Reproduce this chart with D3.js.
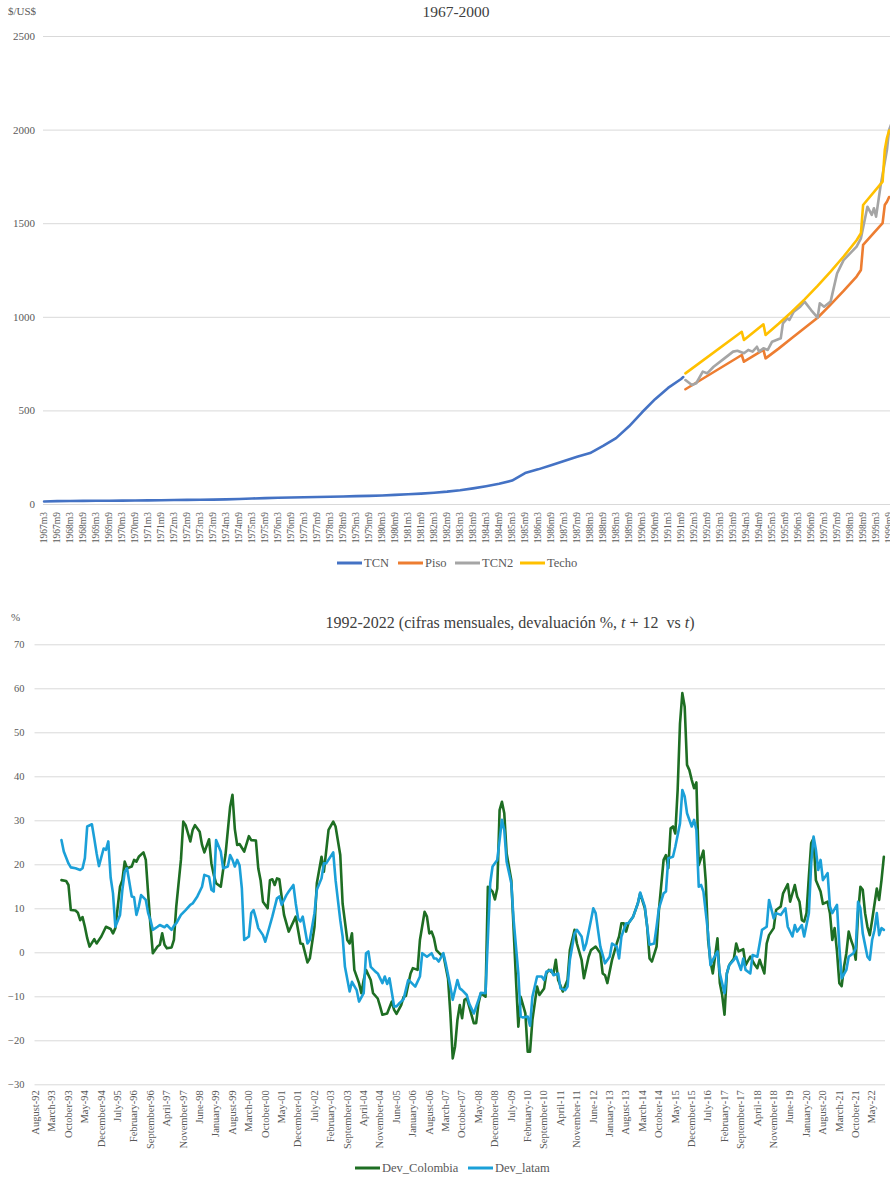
<!DOCTYPE html>
<html>
<head>
<meta charset="utf-8">
<script src="https://cdn.jsdelivr.net/npm/d3@7"></script>
<style>
  body { margin: 0; background: #fff; }
  svg { display: block; }
</style>
</head>
<body>
<script>
// ---- top chart: 1967-2000, $/US$ ----
const topYTicks = [0, 500, 1000, 1500, 2000, 2500];

const tcn = [
    ["1967-03", 13.5], ["1967-09", 15.5], ["1968-03", 16.0], ["1968-09", 16.6], ["1969-03", 17.1], ["1969-09", 17.6],
    ["1970-03", 18.2], ["1970-09", 18.9], ["1971-03", 19.5], ["1971-09", 20.3], ["1972-03", 21.2], ["1972-09", 22.0],
    ["1973-03", 22.8], ["1973-09", 23.6], ["1974-03", 24.6], ["1974-09", 26.5], ["1975-03", 29.0], ["1975-09", 31.6],
    ["1976-03", 33.6], ["1976-09", 35.0], ["1977-03", 36.2], ["1977-09", 37.0], ["1978-03", 38.4], ["1978-09", 40.0],
    ["1979-03", 41.9], ["1979-09", 43.6], ["1980-03", 45.8], ["1980-09", 48.6], ["1981-03", 51.8], ["1981-09", 55.6],
    ["1982-03", 60.3], ["1982-09", 66.0], ["1983-03", 73.5], ["1983-09", 83.5], ["1984-03", 95.0], ["1984-09", 108],
    ["1985-03", 125], ["1985-09", 165], ["1986-03", 185], ["1986-09", 207], ["1987-03", 230], ["1987-09", 252],
    ["1988-03", 272], ["1988-09", 310], ["1989-03", 352], ["1989-09", 415], ["1990-03", 490], ["1990-09", 560],
    ["1991-03", 620], ["1991-09", 668], ["1991-10", 678]
];

const piso = [
    ["1991-11", 613], ["1994-01", 796], ["1994-02", 760], ["1994-11", 823], ["1994-12", 778], ["1995-06", 830],
    ["1995-12", 885], ["1996-06", 940], ["1996-12", 995], ["1997-06", 1065], ["1997-12", 1138], ["1998-06", 1215],
    ["1998-08", 1250], ["1998-09", 1384], ["1999-06", 1500], ["1999-07", 1597], ["1999-08", 1615], ["1999-09", 1640]
];

const tcn2 = [
    ["1991-11", 662], ["1992-02", 636], ["1992-04", 645], ["1992-07", 707], ["1992-09", 698], ["1992-12", 733],
    ["1993-05", 778], ["1993-09", 814], ["1993-11", 819], ["1994-02", 805], ["1994-04", 823], ["1994-06", 814],
    ["1994-08", 840], ["1994-09", 814], ["1994-11", 832], ["1995-01", 823], ["1995-03", 867], ["1995-05", 876],
    ["1995-07", 885], ["1995-08", 965], ["1995-10", 992], ["1995-11", 983], ["1996-01", 1027], ["1996-04", 1054],
    ["1996-06", 1081], ["1996-09", 1036], ["1996-12", 996], ["1997-01", 1072], ["1997-03", 1054], ["1997-06", 1081],
    ["1997-09", 1232], ["1997-12", 1303], ["1998-03", 1339], ["1998-06", 1375], ["1998-08", 1419], ["1998-11", 1588],
    ["1999-01", 1544], ["1999-02", 1580], ["1999-03", 1535], ["1999-05", 1695], ["1999-08", 1891], ["1999-09", 1998],
    ["1999-10", 2030]
];

const techo = [
    ["1991-11", 698], ["1994-01", 920], ["1994-02", 876], ["1994-11", 960], ["1994-12", 903], ["1995-06", 963],
    ["1995-12", 1026], ["1996-06", 1093], ["1996-12", 1165], ["1997-06", 1241], ["1997-12", 1322], ["1998-06", 1409],
    ["1998-08", 1446], ["1998-09", 1597], ["1999-06", 1722], ["1999-07", 1891], ["1999-08", 1955], ["1999-09", 1995]
];

// ---- bottom chart: 1992-2022, devaluación % ----
const bottomYTicks = [-30, -20, -10, 0, 10, 20, 30, 40, 50, 60, 70];

const devColombia = [
    ["1993-07", 16.4], ["1993-09", 16.2], ["1993-10", 15.3], ["1993-11", 9.6],
    ["1994-01", 9.5], ["1994-02", 9.0], ["1994-03", 7.3], ["1994-04", 8.0], ["1994-05", 5.8], ["1994-06", 3.2], ["1994-07", 1.3], ["1994-09", 3.0], ["1994-10", 2.0], ["1994-12", 3.6],
    ["1995-02", 5.8], ["1995-04", 5.3], ["1995-05", 4.3], ["1995-06", 5.5], ["1995-08", 14.9], ["1995-09", 16.4], ["1995-10", 20.6], ["1995-11", 19.1],
    ["1996-01", 19.5], ["1996-02", 21.0], ["1996-03", 20.6], ["1996-04", 21.7], ["1996-06", 22.7], ["1996-07", 21.0], ["1996-08", 13.4], ["1996-09", 6.0], ["1996-10", -0.2], ["1996-12", 1.3],
    ["1997-01", 1.7], ["1997-02", 4.3], ["1997-03", 1.7], ["1997-04", 0.9], ["1997-06", 1.1], ["1997-07", 2.8], ["1997-08", 10.4], ["1997-10", 21.0], ["1997-11", 29.7], ["1997-12", 28.9],
    ["1998-02", 25.2], ["1998-03", 27.8], ["1998-04", 28.9], ["1998-06", 27.4], ["1998-07", 24.4], ["1998-08", 22.7], ["1998-10", 25.7], ["1998-11", 20.2], ["1998-12", 17.6],
    ["1999-01", 15.7], ["1999-03", 14.9], ["1999-04", 18.7], ["1999-05", 22.1], ["1999-07", 33.1], ["1999-08", 35.8], ["1999-09", 28.0], ["1999-10", 24.4], ["1999-11", 24.6],
    ["2000-01", 22.9], ["2000-03", 26.4], ["2000-04", 25.5], ["2000-06", 25.4], ["2000-07", 19.1], ["2000-08", 16.4], ["2000-09", 11.5], ["2000-11", 10.0], ["2000-12", 16.4],
    ["2001-01", 16.6], ["2001-02", 15.3], ["2001-03", 16.8], ["2001-04", 16.6], ["2001-06", 8.5], ["2001-08", 4.7], ["2001-09", 5.8], ["2001-11", 8.1],
    ["2002-01", 2.0], ["2002-02", 1.9], ["2002-04", -2.3], ["2002-05", -1.4], ["2002-07", 5.8], ["2002-08", 15.7], ["2002-10", 21.7], ["2002-11", 18.3],
    ["2003-01", 27.8], ["2003-03", 29.7], ["2003-04", 28.6], ["2003-06", 22.1], ["2003-07", 11.1], ["2003-09", 2.8], ["2003-10", 2.0], ["2003-11", 4.3], ["2003-12", -4.0],
    ["2004-02", -7.0], ["2004-03", -9.3], ["2004-04", -6.3], ["2004-05", -4.0], ["2004-07", -6.3], ["2004-08", -9.3], ["2004-10", -10.5], ["2004-11", -12.3], ["2004-12", -14.2],
    ["2005-02", -13.9], ["2005-04", -11.2], ["2005-05", -13.1], ["2005-06", -14.0], ["2005-08", -12.0], ["2005-09", -10.2], ["2005-10", -9.9], ["2005-12", -4.8],
    ["2006-01", -3.6], ["2006-03", -4.0], ["2006-04", 2.8], ["2006-06", 9.2], ["2006-07", 8.1], ["2006-08", 4.3], ["2006-09", 4.7], ["2006-10", 3.2], ["2006-11", 0.5],
    ["2007-01", -0.6], ["2007-02", -0.5], ["2007-03", -3.3], ["2007-04", -6.0], ["2007-05", -14.0], ["2007-06", -24.1], ["2007-07", -21.4], ["2007-08", -15.4], ["2007-09", -12.0], ["2007-10", -15.0], ["2007-11", -10.8], ["2007-12", -10.5],
    ["2008-01", -12.3], ["2008-03", -16.1], ["2008-04", -16.1], ["2008-05", -11.6], ["2008-06", -9.3], ["2008-08", -10.1], ["2008-09", 14.9], ["2008-11", 13.8], ["2008-12", 12.0],
    ["2009-01", 14.5], ["2009-02", 32.3], ["2009-03", 34.2], ["2009-04", 31.6], ["2009-05", 22.5], ["2009-07", 16.4], ["2009-08", 5.1], ["2009-09", -6.3], ["2009-10", -16.9], ["2009-11", -10.1],
    ["2010-01", -13.9], ["2010-02", -22.6], ["2010-03", -22.6], ["2010-04", -15.4], ["2010-06", -7.8], ["2010-07", -9.7], ["2010-09", -8.2], ["2010-10", -4.8], ["2010-11", -4.0],
    ["2011-01", -4.8], ["2011-02", -1.7], ["2011-03", -6.3], ["2011-05", -8.9], ["2011-07", -6.3], ["2011-08", 0.5], ["2011-10", 5.1], ["2011-11", 2.0],
    ["2012-01", -1.7], ["2012-02", -5.9], ["2012-04", -1.0], ["2012-05", 0.5], ["2012-07", 1.3], ["2012-09", -0.2], ["2012-10", -4.8], ["2012-11", -5.2], ["2012-12", -7.0],
    ["2013-02", -1.7], ["2013-04", 2.0], ["2013-05", 3.6], ["2013-06", 6.6], ["2013-07", 6.6], ["2013-08", 4.7], ["2013-09", 6.6], ["2013-11", 8.1],
    ["2014-01", 11.1], ["2014-02", 13.4], ["2014-04", 10.0], ["2014-05", 5.8], ["2014-06", -1.4], ["2014-07", -2.1], ["2014-09", 1.3], ["2014-10", 9.6], ["2014-12", 21.0],
    ["2015-01", 22.1], ["2015-02", 19.1], ["2015-03", 28.2], ["2015-04", 28.6], ["2015-05", 27.0], ["2015-06", 36.9], ["2015-07", 52.0], ["2015-08", 58.9], ["2015-09", 55.8], ["2015-10", 42.6], ["2015-11", 41.4], ["2015-12", 39.2],
    ["2016-01", 37.3], ["2016-02", 38.6], ["2016-03", 19.8], ["2016-05", 23.1], ["2016-06", 16.1], ["2016-07", 2.8], ["2016-08", -2.1], ["2016-09", -4.8], ["2016-11", 3.2], ["2016-12", -7.0],
    ["2017-01", -9.7], ["2017-02", -14.2], ["2017-03", -4.8], ["2017-04", -2.9], ["2017-06", -1.4], ["2017-07", 2.0], ["2017-08", 0.2], ["2017-10", 0.7], ["2017-11", -2.9],
    ["2018-01", -1.0], ["2018-03", -2.9], ["2018-04", -3.6], ["2018-05", -1.7], ["2018-07", -4.8], ["2018-08", 2.0], ["2018-09", 3.9], ["2018-11", 5.5], ["2018-12", 9.6],
    ["2019-02", 10.4], ["2019-03", 13.4], ["2019-05", 15.5], ["2019-06", 11.5], ["2019-08", 15.3], ["2019-09", 12.7], ["2019-10", 11.5], ["2019-11", 7.3], ["2019-12", 7.0],
    ["2020-01", 8.9], ["2020-02", 17.2], ["2020-03", 24.8], ["2020-04", 25.9], ["2020-05", 16.4], ["2020-07", 13.8], ["2020-08", 11.0], ["2020-10", 11.5], ["2020-11", 8.9], ["2020-12", 2.8],
    ["2021-01", 5.5], ["2021-02", 0.2], ["2021-03", -7.0], ["2021-04", -7.7], ["2021-05", -3.3], ["2021-06", -0.2], ["2021-07", 4.7], ["2021-08", 2.8], ["2021-09", 1.3], ["2021-10", -1.7], ["2021-11", 8.9], ["2021-12", 14.9],
    ["2022-01", 14.2], ["2022-02", 8.9], ["2022-03", 5.8], ["2022-04", 3.9], ["2022-05", 7.3], ["2022-07", 14.5], ["2022-08", 11.9], ["2022-09", 16.4], ["2022-10", 21.7]
];

const devLatam = [
    ["1993-07", 25.5], ["1993-08", 22.9], ["1993-10", 20.2], ["1993-11", 19.3],
    ["1994-01", 19.1], ["1994-03", 18.7], ["1994-04", 19.1], ["1994-05", 21.4], ["1994-06", 28.6], ["1994-08", 29.1], ["1994-09", 25.9], ["1994-10", 22.5], ["1994-11", 19.6],
    ["1995-01", 23.6], ["1995-02", 23.3], ["1995-03", 25.2], ["1995-04", 17.0], ["1995-05", 13.4], ["1995-06", 5.8], ["1995-08", 8.5], ["1995-09", 14.2], ["1995-10", 18.3], ["1995-11", 19.1],
    ["1996-01", 12.7], ["1996-02", 12.5], ["1996-03", 8.5], ["1996-04", 10.4], ["1996-05", 13.0], ["1996-07", 11.9], ["1996-08", 8.9], ["1996-09", 7.3], ["1996-10", 5.1], ["1996-12", 5.8],
    ["1997-01", 6.2], ["1997-03", 5.7], ["1997-04", 6.2], ["1997-06", 5.1], ["1997-07", 6.0], ["1997-08", 6.6], ["1997-10", 8.5], ["1997-12", 9.6],
    ["1998-02", 10.8], ["1998-03", 11.1], ["1998-05", 12.7], ["1998-07", 14.9], ["1998-08", 17.6], ["1998-10", 17.2], ["1998-11", 14.2], ["1998-12", 13.8],
    ["1999-01", 25.5], ["1999-03", 22.9], ["1999-04", 19.1], ["1999-06", 19.5], ["1999-07", 22.1], ["1999-08", 21.0], ["1999-09", 19.5], ["1999-10", 21.0], ["1999-11", 19.8], ["1999-12", 14.5],
    ["2000-01", 2.8], ["2000-03", 3.6], ["2000-04", 8.9], ["2000-05", 9.6], ["2000-06", 7.7], ["2000-07", 5.5], ["2000-09", 3.9], ["2000-10", 2.4], ["2000-12", 6.2],
    ["2001-01", 8.1], ["2001-03", 12.3], ["2001-04", 12.7], ["2001-05", 10.8], ["2001-07", 13.0], ["2001-08", 13.8], ["2001-10", 15.3], ["2001-11", 11.1], ["2001-12", 7.7],
    ["2002-01", 7.0], ["2002-02", 8.1], ["2002-04", 2.0], ["2002-05", 2.8], ["2002-07", 8.9], ["2002-08", 14.2], ["2002-10", 16.8], ["2002-11", 20.2], ["2002-12", 20.2],
    ["2003-03", 22.7], ["2003-04", 16.4], ["2003-06", 7.3], ["2003-07", 3.6], ["2003-08", -3.3], ["2003-10", -8.9], ["2003-11", -6.7],
    ["2004-01", -8.6], ["2004-02", -11.2], ["2004-04", -9.3], ["2004-05", -0.2], ["2004-06", 0.2], ["2004-07", -3.3], ["2004-09", -4.4], ["2004-10", -4.8], ["2004-12", -7.0],
    ["2005-01", -5.5], ["2005-02", -7.2], ["2005-03", -5.9], ["2005-05", -12.3], ["2005-06", -12.3], ["2005-07", -11.7], ["2005-09", -10.7], ["2005-11", -6.3], ["2005-12", -6.7],
    ["2006-02", -7.8], ["2006-04", -5.5], ["2006-05", -0.2], ["2006-07", -1.0], ["2006-09", -0.2], ["2006-10", -1.4], ["2006-11", -1.4], ["2006-12", -2.1],
    ["2007-02", -0.2], ["2007-03", -2.5], ["2007-05", -7.8], ["2007-06", -10.8], ["2007-08", -6.3], ["2007-09", -8.2], ["2007-10", -8.6], ["2007-12", -9.7],
    ["2008-01", -11.6], ["2008-03", -13.9], ["2008-05", -10.8], ["2008-06", -9.2], ["2008-08", -9.3], ["2008-10", 15.7], ["2008-11", 19.5],
    ["2009-01", 21.0], ["2009-02", 25.5], ["2009-03", 30.1], ["2009-04", 27.8], ["2009-05", 20.6], ["2009-07", 15.7], ["2009-08", 7.3], ["2009-10", -4.8], ["2009-11", -14.6], ["2009-12", -14.8],
    ["2010-02", -14.6], ["2010-03", -16.7], ["2010-04", -10.1], ["2010-06", -5.5], ["2010-08", -5.5], ["2010-09", -6.3], ["2010-10", -4.4], ["2010-12", -4.0],
    ["2011-01", -5.2], ["2011-03", -4.8], ["2011-04", -8.2], ["2011-06", -8.6], ["2011-07", -7.8], ["2011-08", -1.7], ["2011-10", 4.3], ["2011-11", 5.1],
    ["2012-01", 3.6], ["2012-02", 0.5], ["2012-03", 2.0], ["2012-05", 7.3], ["2012-06", 10.0], ["2012-07", 8.9], ["2012-09", 1.3], ["2012-10", -0.6], ["2012-11", -2.5],
    ["2013-01", -1.0], ["2013-02", 2.0], ["2013-04", 1.3], ["2013-05", -1.4], ["2013-06", 3.6], ["2013-08", 6.6], ["2013-09", 6.6], ["2013-11", 8.1],
    ["2014-01", 11.1], ["2014-02", 13.6], ["2014-04", 10.4], ["2014-05", 5.8], ["2014-06", 1.7], ["2014-08", 2.0], ["2014-09", 5.8], ["2014-10", 10.0], ["2014-12", 13.4],
    ["2015-01", 13.8], ["2015-02", 21.4], ["2015-04", 21.7], ["2015-05", 24.0], ["2015-07", 29.3], ["2015-08", 36.9], ["2015-09", 35.4], ["2015-10", 31.6], ["2015-12", 28.6],
    ["2016-01", 30.1], ["2016-02", 27.8], ["2016-03", 14.9], ["2016-04", 15.3], ["2016-05", 13.8], ["2016-07", 4.3], ["2016-08", -2.9], ["2016-09", -1.7], ["2016-11", 0.2], ["2016-12", -4.8],
    ["2017-02", -9.3], ["2017-03", -4.8], ["2017-04", -2.9], ["2017-06", -1.7], ["2017-07", -1.0], ["2017-09", -4.0], ["2017-10", -1.4], ["2017-11", -4.0],
    ["2018-01", -4.8], ["2018-02", -0.6], ["2018-04", -1.0], ["2018-05", 2.0], ["2018-06", 5.1], ["2018-08", 5.8], ["2018-09", 11.9], ["2018-11", 7.7], ["2018-12", 8.9],
    ["2019-02", 8.5], ["2019-04", 10.0], ["2019-05", 5.8], ["2019-07", 3.6], ["2019-08", 6.2], ["2019-09", 4.7], ["2019-11", 6.2], ["2019-12", 3.6],
    ["2020-02", 8.9], ["2020-03", 20.2], ["2020-04", 26.3], ["2020-05", 23.3], ["2020-06", 18.7], ["2020-07", 21.0], ["2020-08", 16.4], ["2020-10", 18.0], ["2020-11", 10.4], ["2020-12", 8.9],
    ["2021-02", 10.8], ["2021-03", 1.3], ["2021-04", -5.9], ["2021-06", -4.0], ["2021-07", -1.0], ["2021-09", -0.2], ["2021-10", 0.9], ["2021-11", 11.5], ["2021-12", 10.0],
    ["2022-01", 4.3], ["2022-03", -1.0], ["2022-04", -1.7], ["2022-05", 2.8], ["2022-06", 5.0], ["2022-07", 8.9], ["2022-08", 3.9], ["2022-09", 5.5], ["2022-10", 5.1]
];

const topSeries = [
    {label: "TCN", color: "#4472c4", data: tcn},
    {label: "Piso", color: "#ed7d31", data: piso},
    {label: "TCN2", color: "#a5a5a5", data: tcn2},
    {label: "Techo", color: "#ffc000", data: techo}
];

const bottomSeries = [
    {label: "Dev_Colombia", color: "#1e6e23", data: devColombia},
    {label: "Dev_latam", color: "#1ba0d8", data: devLatam}
];

const serif = '"Liberation Serif", "Times New Roman", serif';
const parseMonth = d3.timeParse("%Y-%m");
const keyMonth = d3.timeFormat("%Y-%m");
const longMonth = d3.timeFormat("%B-%y");

function monthKeys(first, last) {
    return d3.timeMonth.range(parseMonth(first), d3.timeMonth.offset(parseMonth(last), 1)).map(keyMonth);
}

const svg = d3.select("body").append("svg")
    .attr("width", 890)
    .attr("height", 1177)
    .style("font-family", serif);

function addText(g, x, y, size, txt) {
    return g.append("text")
        .attr("x", x)
        .attr("y", y)
        .style("font-family", serif)
        .style("font-size", size)
        .attr("fill", "#595959")
        .text(txt);
}

function renderGrid(g, y, ticks, x0, x1, padding, fontSize) {
    const axis = g.append("g")
        .attr("transform", "translate(" + x0 + ",0)")
        .call(d3.axisLeft(y).tickValues(ticks).tickFormat(d3.format("d")).tickSize(-(x1 - x0)).tickPadding(padding));
    axis.select(".domain").remove();
    axis.selectAll(".tick line").attr("stroke", "#d9d9d9");
    axis.selectAll(".tick text")
        .attr("fill", "#595959")
        .style("font-family", serif)
        .style("font-size", fontSize);
}

function renderCategoryAxis(g, x, y0, ticks, format, offset, fontSize) {
    const axis = g.append("g")
        .attr("transform", "translate(0," + y0 + ")")
        .call(d3.axisBottom(x).tickValues(ticks).tickFormat(format).tickSize(0));
    axis.select(".domain").remove();
    axis.selectAll(".tick text")
        .attr("fill", "#595959")
        .style("font-family", serif)
        .style("font-size", fontSize)
        .attr("transform", "rotate(-90)")
        .attr("text-anchor", "end")
        .attr("x", -offset)
        .attr("y", 0)
        .attr("dy", "0.32em");
}

function renderLines(g, x, y, series, width) {
    const line = d3.line()
        .x((d) => x(d[0]) + x.bandwidth() / 2)
        .y((d) => y(d[1]));
    g.selectAll("foo")
        .data(series)
        .enter()
        .append("path")
        .attr("fill", "none")
        .attr("stroke", (d) => d.color)
        .attr("stroke-width", width)
        .attr("stroke-linejoin", "round")
        .attr("stroke-linecap", "round")
        .attr("d", (d) => line(d.data));
}

function renderLegend(g, series, xs, y) {
    const item = g.selectAll("foo")
        .data(series)
        .enter()
        .append("g")
        .attr("transform", (d, i) => "translate(" + xs[i] + "," + y + ")");
    item.append("line")
        .attr("x1", 0).attr("x2", 25)
        .attr("stroke", (d) => d.color)
        .attr("stroke-width", 3);
    item.append("text")
        .attr("x", 27)
        .attr("dy", "0.35em")
        .attr("fill", "#595959")
        .style("font-family", serif)
        .style("font-size", "12.5px")
        .text((d) => d.label);
}

function drawTop() {
    const g = svg.append("g");
    const keys = monthKeys("1967-03", "2000-12");
    const x = d3.scaleBand().domain(keys).range([43, 43 + keys.length * 2.1667]);
    const y = d3.scaleLinear().domain([0, 2500]).range([504, 36]);

    renderGrid(g, y, topYTicks, 43, 890, 8, "11px");
    renderCategoryAxis(g, x, 504, keys.filter((d, i) => i % 6 === 0), (d) => {
        const dt = parseMonth(d);
        return dt.getFullYear() + "m" + (dt.getMonth() + 1);
    }, 8, "9.5px");
    renderLines(g, x, y, topSeries, 2.6);

    addText(g, 8, 15, "11px", "$/US$");
    addText(g, 456, 17, "15.5px", "1967-2000")
        .attr("text-anchor", "middle")
        .attr("fill", "#404040");
    renderLegend(g, topSeries, [337, 398, 455, 520], 563);
}

function drawBottom() {
    const g = svg.append("g");
    const keys = monthKeys("1992-08", "2022-10");
    const x = d3.scaleBand().domain(keys).range([34.5, 34.5 + keys.length * 2.343]);
    const y = d3.scaleLinear().domain([-30, 70]).range([1084.3, 644.3]);

    renderGrid(g, y, bottomYTicks, 34.5, 885, 10, "10.5px");
    renderCategoryAxis(g, x, 1084.3, keys.filter((d, i) => i % 7 === 0), (d) => longMonth(parseMonth(d)), 6, "10.5px");
    renderLines(g, x, y, bottomSeries, 2.6);

    addText(g, 11, 621, "11px", "%");
    const title = addText(g, 510, 628, "16px", null)
        .attr("text-anchor", "middle")
        .attr("fill", "#404040")
        .style("white-space", "pre");
    title.append("tspan").text("1992-2022 (cifras mensuales, devaluación %, ");
    title.append("tspan").style("font-style", "italic").text("t");
    title.append("tspan").text(" + 12  vs ");
    title.append("tspan").style("font-style", "italic").text("t");
    title.append("tspan").text(")");
    renderLegend(g, bottomSeries, [355, 468], 1168);
}

drawTop();
drawBottom();
</script>
</body>
</html>
